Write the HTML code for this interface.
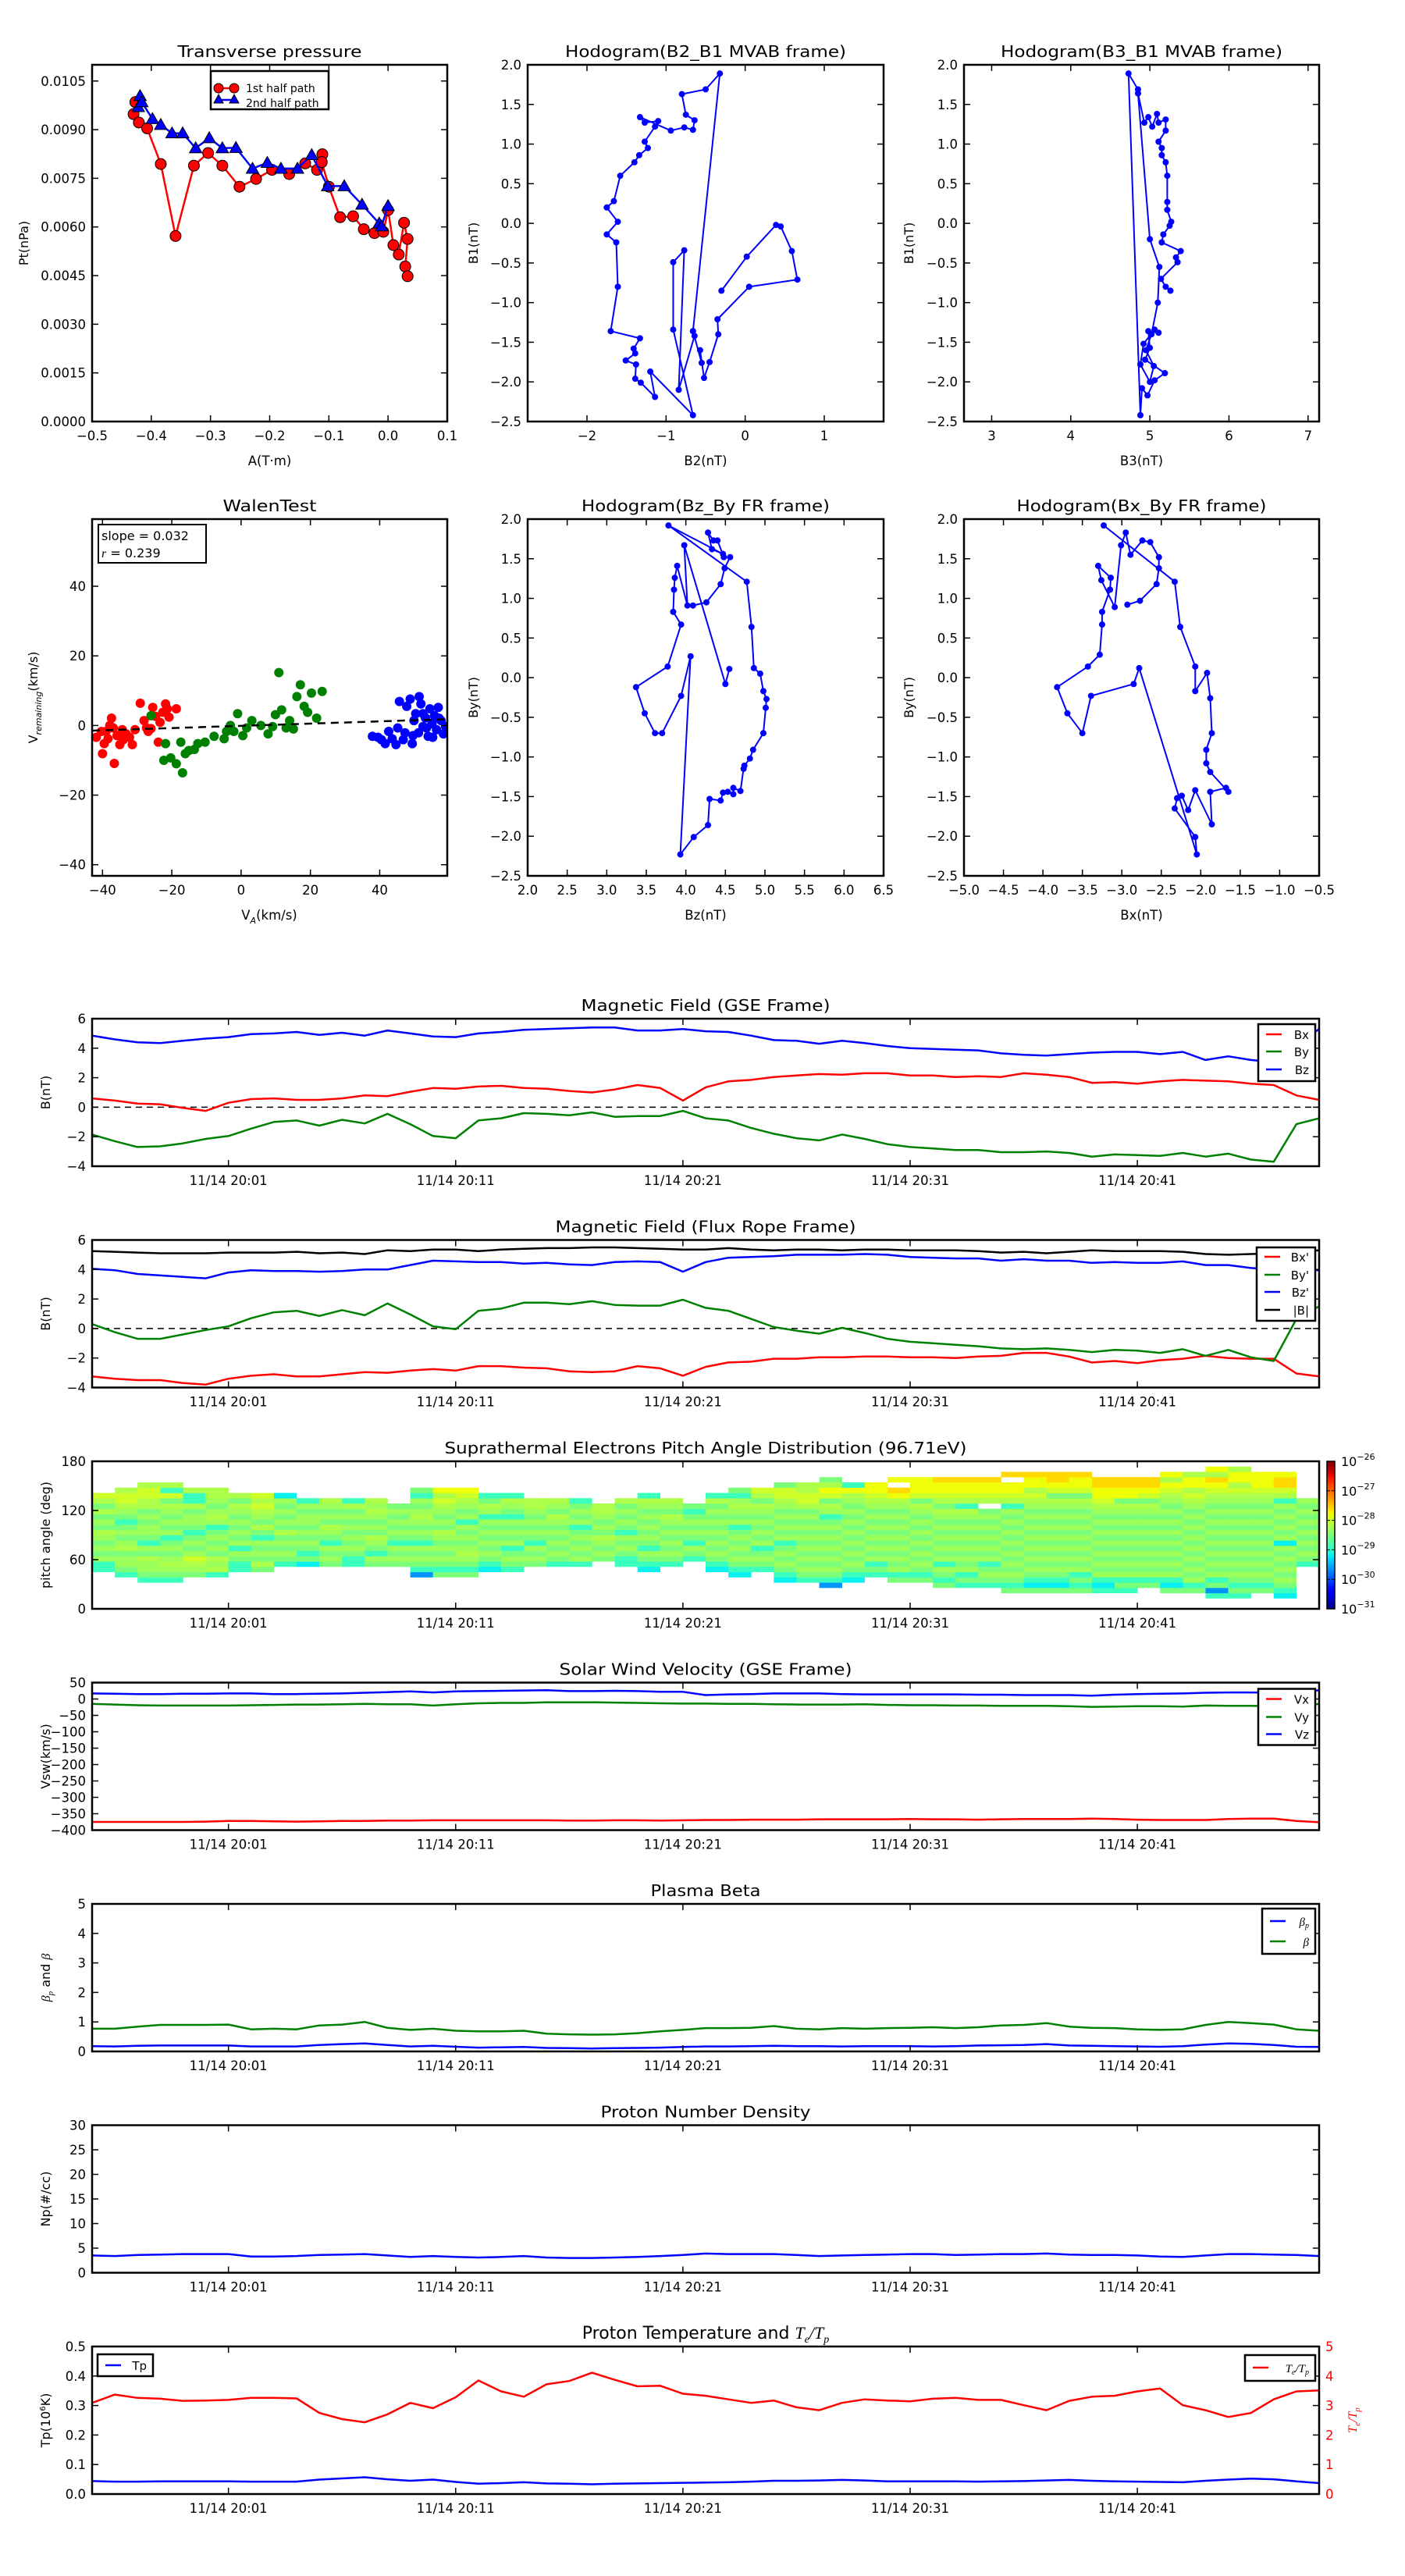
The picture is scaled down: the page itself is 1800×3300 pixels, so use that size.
<!DOCTYPE html>
<html><head><meta charset="utf-8"><title>Flux rope analysis</title>
<style>html,body{margin:0;padding:0;background:#fff}svg{display:block}</style>
</head><body>
<svg id="fig" xmlns="http://www.w3.org/2000/svg" width="1800" height="3300" viewBox="0 0 1800 3300">
<rect x="0" y="0" width="1800" height="3300" fill="#fff"/>
</svg>
<script>
// ---------------- DATA ----------------
// Transverse pressure
const ptA1 = [-0.427,-0.430,-0.421,-0.407,-0.384,-0.359,-0.328,-0.304,-0.280,-0.251,-0.223,-0.196,-0.167,-0.140,-0.120,-0.111,-0.112,-0.100,-0.081,-0.059,-0.041,-0.023,-0.008,0.0,0.009,0.018,0.027,0.033,0.029,0.033];
const ptP1 = [0.00985,0.00948,0.00922,0.00904,0.00794,0.00572,0.00789,0.00828,0.00789,0.00724,0.00748,0.00776,0.00763,0.00796,0.00776,0.00824,0.0080,0.00724,0.0063,0.00633,0.00593,0.00581,0.00585,0.00652,0.00544,0.00515,0.00613,0.00563,0.00478,0.00448];
const ptA2 = [-0.419,-0.422,-0.416,-0.398,-0.384,-0.365,-0.347,-0.325,-0.302,-0.280,-0.257,-0.229,-0.204,-0.181,-0.153,-0.129,-0.102,-0.074,-0.044,-0.015,-0.011,0.0];
const ptP2 = [0.01004,0.0097,0.00985,0.00933,0.00915,0.00889,0.00889,0.00843,0.00874,0.00843,0.00844,0.0078,0.00798,0.0078,0.0078,0.00822,0.00726,0.00726,0.00669,0.00611,0.00602,0.00665];
// Hodogram B2-B1
const hB2 = [-0.30,0.02,0.39,0.45,0.59,0.66,0.05,-0.35,-0.34,-0.45,-0.52,-0.57,-0.55,-0.66,-0.64,-0.84,-0.77,-0.91,-0.91,-0.66,-1.20,-1.14,-1.32,-1.39,-1.38,-1.51,-1.39,-1.41,-1.33,-1.70,-1.61,-1.63,-1.75,-1.61,-1.75,-1.66,-1.58,-1.40,-1.34,-1.23,-1.27,-1.14,-1.10,-1.27,-1.33,-0.94,-0.77,-0.66,-0.64,-0.75,-0.80,-0.50,-0.32,-0.66];
const hB1a = [-0.85,-0.42,-0.02,-0.04,-0.35,-0.71,-0.80,-1.21,-1.40,-1.75,-1.95,-1.60,-1.76,-1.36,-1.42,-2.10,-0.34,-0.49,-1.34,-2.42,-1.87,-2.19,-2.01,-1.96,-1.78,-1.73,-1.64,-1.58,-1.45,-1.36,-0.80,-0.24,-0.14,0.02,0.20,0.28,0.60,0.77,0.86,0.95,1.03,1.22,1.29,1.27,1.34,1.17,1.21,1.18,1.30,1.37,1.63,1.69,1.89,-1.36];
// Hodogram B3-B1
const hB3 = [5.26,5.20,5.14,5.35,5.33,5.39,5.15,5.17,5.25,5.27,5.22,5.22,5.22,5.20,5.15,5.15,5.11,5.20,5.20,5.11,5.09,5.03,4.98,4.93,4.85,4.85,4.73,4.88,4.90,4.97,5.06,5.19,4.94,5.00,4.98,5.11,5.06,4.92,4.88,5.00,5.05,4.95,5.02,5.10,5.12,5.00,4.85];
const hB1b = [-0.85,-0.80,-0.70,-0.49,-0.43,-0.35,-0.24,-0.14,-0.03,0.02,0.17,0.27,0.60,0.77,0.86,0.95,1.03,1.17,1.31,1.27,1.38,1.22,1.34,1.27,1.64,1.69,1.89,-2.42,-2.08,-2.17,-1.98,-1.89,-1.72,-1.57,-1.36,-1.38,-1.34,-1.52,-1.78,-2.00,-1.80,-1.60,-1.40,-1.00,-0.55,-0.20,1.64];
// Walen test
const wRedX = [-41.8,-40,-39,-37.9,-37.4,-36.6,-35.8,-35,-34.3,-33.2,-32.2,-31.4,-30.6,-40.3,-38.4,-36.9,-29.1,-27.3,-26,-25.5,-24.7,-23.9,-23.4,-22.6,-21.8,-21.3,-20.8,-18.7,-28,-26.8,-34,-39.5];
const wRedY = [-3.4,-8.1,-1.7,0,2.1,-10.9,-2.9,-5.5,-1.2,-2.4,-3.4,-5.5,-1.2,-1.7,-3.8,-0.7,6.4,-0.7,-0.9,5.2,2.6,-4.8,0.9,3.8,6.2,4.8,2.4,4.8,1.4,-1.7,-4.1,-5.2];
const wGrnX = [-26,-22.3,-21.8,-20.3,-18.7,-17.4,-16.9,-16.1,-15.1,-13.5,-12.5,-10.4,-7.8,-4.9,-4.2,-3.1,-2.1,-1,0.5,1.6,3.1,5.7,7.8,9.1,9.9,10.9,11.7,13,14,15.1,16.1,17.1,18.2,19.2,20.3,21.8,23.4];
const wGrnY = [2.8,-10,-5.2,-9.3,-11,-4.8,-13.6,-8.1,-7.2,-6.9,-5.2,-4.8,-3.1,-3.8,-1.7,0,-1.7,3.4,-2.9,-0.7,1.4,0,-2.4,-0.3,3.1,15.2,4.5,-0.7,1.4,-1,8.3,11.7,5.5,3.8,9.3,2.1,9.8];
const wBluX = [37.9,39.5,41.6,42.6,43.6,44.7,45.7,46.8,47.8,48.8,49.4,49.9,50.4,51.2,51.9,52.5,53.2,54,54.5,55.1,55.8,56.4,56.9,57.7,58.4,59,45.2,47.3,51.4,53.5,55.3,52.5,57.1,40.5,49.6];
const wBluY = [-3.1,-3.4,-5.2,-1.7,-3.8,-5.5,6.9,-4.1,5.5,7.6,-5.2,1.4,3.4,-2.1,6.2,-0.3,2.2,-3.1,4.8,0.5,2.8,-1.2,5.2,1.4,-2.4,-0.3,-0.7,-2.1,8.3,-0.7,-3.4,3.4,2.1,-4.1,-2.9];
const walenSlope = 0.032;
const walenIntercept = -0.1;
// Hodogram Bz-By (FR)
const fBz = [4.09,4.26,4.44,4.49,4.56,4.48,4.40,4.35,4.28,4.33,4.47,3.78,4.77,4.83,4.86,4.94,4.98,5.02,5.01,4.98,4.85,4.81,4.74,4.73,4.69,4.60,4.60,4.53,4.47,4.44,4.30,4.28,4.10,3.93,4.06,3.94,3.70,3.61,3.48,3.37,3.77,3.94,3.84,3.85,3.86,3.89,4.02,3.98,4.50,4.55];
const fBy = [0.91,0.95,1.18,1.38,1.52,1.52,1.73,1.73,1.83,1.62,1.56,1.92,1.21,0.64,0.12,0.05,-0.17,-0.27,-0.38,-0.70,-0.91,-1.02,-1.11,-1.15,-1.43,-1.39,-1.47,-1.44,-1.45,-1.55,-1.53,-1.86,-2.01,-2.23,0.27,-0.23,-0.70,-0.70,-0.45,-0.12,0.14,0.67,0.83,1.11,1.26,1.41,0.91,1.67,-0.08,0.11];
// Hodogram Bx-By (FR)
const gBx = [-3.23,-2.33,-2.26,-2.07,-2.07,-1.92,-1.88,-1.86,-1.93,-1.93,-1.88,-1.65,-1.68,-1.88,-1.86,-2.07,-2.16,-2.24,-2.30,-2.33,-2.07,-2.05,-2.78,-2.85,-3.39,-3.50,-3.69,-3.82,-3.43,-3.28,-3.25,-3.25,-3.15,-3.14,-3.30,-3.26,-3.09,-3.01,-2.95,-2.89,-2.74,-2.64,-2.53,-2.53,-2.56,-2.77,-2.93];
const gBy = [1.92,1.21,0.64,0.14,-0.17,0.06,-0.26,-0.70,-0.91,-1.08,-1.19,-1.44,-1.39,-1.44,-1.85,-1.42,-1.67,-1.49,-1.52,-1.65,-2.01,-2.23,0.12,-0.08,-0.23,-0.70,-0.45,-0.12,0.14,0.29,0.67,0.83,1.11,1.26,1.41,1.23,0.89,1.67,1.83,1.55,1.73,1.71,1.52,1.38,1.18,0.97,0.92];
// Time series (1-min samples from 19:55)
const timeTickPos = [6,16,26,36,46];
const timeTickLabels = ['11/14 20:01','11/14 20:11','11/14 20:21','11/14 20:31','11/14 20:41'];
const gseBx = [0.6,0.45,0.25,0.2,-0.05,-0.25,0.3,0.55,0.6,0.5, 0.5,0.6,0.8,0.75,1.05,1.3,1.25,1.4,1.45,1.3, 1.25,1.1,1.0,1.2,1.5,1.3,0.45,1.35,1.75,1.85, 2.05,2.15,2.25,2.2,2.3,2.3,2.15,2.15,2.05,2.1, 2.05,2.3,2.2,2.05,1.65,1.7,1.6,1.75,1.85,1.8, 1.75,1.6,1.5,0.8,0.5];
const gseBy = [-1.85,-2.3,-2.7,-2.65,-2.45,-2.15,-1.95,-1.45,-1.0,-0.9, -1.25,-0.85,-1.1,-0.45,-1.15,-1.95,-2.1,-0.9,-0.75,-0.4, -0.45,-0.55,-0.35,-0.65,-0.6,-0.6,-0.25,-0.75,-0.9,-1.4, -1.8,-2.1,-2.25,-1.85,-2.15,-2.5,-2.7,-2.8,-2.9,-2.9, -3.05,-3.05,-3.0,-3.1,-3.35,-3.2,-3.25,-3.3,-3.1,-3.35, -3.15,-3.55,-3.7,-1.15,-0.75];
const gseBz = [4.85,4.6,4.4,4.35,4.5,4.65,4.75,4.95,5.0,5.1, 4.9,5.05,4.85,5.2,5.0,4.8,4.75,5.0,5.1,5.25, 5.3,5.35,5.4,5.4,5.2,5.2,5.3,5.15,5.1,4.85, 4.55,4.5,4.3,4.5,4.35,4.15,4.0,3.95,3.9,3.85, 3.65,3.55,3.5,3.6,3.7,3.75,3.75,3.6,3.75,3.2, 3.45,3.2,3.05,4.2,5.3];
const frBx = [-3.25,-3.4,-3.5,-3.5,-3.7,-3.8,-3.4,-3.2,-3.1,-3.25, -3.25,-3.1,-2.95,-3.0,-2.85,-2.75,-2.85,-2.55,-2.55,-2.65, -2.7,-2.9,-2.95,-2.9,-2.55,-2.7,-3.2,-2.6,-2.3,-2.25, -2.05,-2.05,-1.95,-1.95,-1.9,-1.9,-1.95,-1.95,-2.0,-1.9, -1.85,-1.65,-1.65,-1.9,-2.3,-2.2,-2.35,-2.15,-2.05,-1.85, -2.0,-2.05,-2.05,-3.05,-3.25];
const frBy = [0.3,-0.25,-0.7,-0.7,-0.4,-0.1,0.15,0.7,1.1,1.2, 0.85,1.25,0.9,1.7,0.95,0.15,-0.05,1.2,1.35,1.75, 1.75,1.65,1.85,1.6,1.55,1.55,1.95,1.4,1.2,0.65, 0.1,-0.15,-0.35,0.05,-0.3,-0.7,-0.9,-1.0,-1.1,-1.2, -1.35,-1.4,-1.35,-1.45,-1.6,-1.45,-1.5,-1.65,-1.4,-1.85, -1.45,-1.95,-2.2,0.65,1.5];
const frBz = [4.05,3.95,3.7,3.6,3.5,3.4,3.8,3.95,3.9,3.9, 3.85,3.9,4.0,4.0,4.3,4.6,4.55,4.5,4.5,4.4, 4.45,4.35,4.3,4.5,4.55,4.5,3.85,4.5,4.8,4.85, 4.9,5.0,5.0,5.0,5.05,5.0,4.85,4.8,4.75,4.75, 4.6,4.7,4.6,4.6,4.45,4.5,4.45,4.45,4.55,4.3, 4.3,4.1,4.0,4.0,3.95];
const frBt = [5.25,5.2,5.15,5.1,5.1,5.1,5.15,5.15,5.15,5.2, 5.1,5.15,5.05,5.3,5.25,5.35,5.35,5.25,5.35,5.4, 5.45,5.45,5.5,5.5,5.45,5.4,5.35,5.35,5.45,5.35, 5.3,5.35,5.35,5.3,5.35,5.35,5.3,5.3,5.3,5.25, 5.15,5.2,5.1,5.2,5.3,5.25,5.25,5.25,5.2,5.05, 5.0,5.05,5.1,5.2,5.3];
const velVx = [-375,-375,-375,-375,-375,-374,-372,-372,-373,-374, -373,-372,-372,-371,-371,-370,-370,-370,-370,-370, -370,-371,-371,-370,-370,-371,-370,-369,-369,-368, -368,-368,-367,-367,-367,-367,-366,-367,-367,-368, -367,-366,-366,-366,-365,-366,-368,-369,-369,-369, -366,-365,-365,-372,-376];
const velVy = [-15,-17,-19,-20,-20,-20,-20,-19,-18,-17, -17,-16,-15,-16,-16,-20,-16,-13,-12,-12, -10,-10,-10,-11,-12,-13,-14,-14,-15,-15, -16,-17,-17,-17,-16,-18,-19,-19,-20,-20, -21,-21,-21,-22,-24,-23,-22,-22,-23,-20, -21,-21,-22,-24,-15];
const velVz = [17,16,15,15,16,16,17,17,15,15, 16,17,19,21,23,20,23,24,25,26, 27,24,24,25,24,22,22,12,14,15, 17,17,17,15,14,14,14,14,14,13, 13,12,12,12,10,13,15,16,17,19, 20,20,19,18,27];
const betaP = [0.18,0.17,0.19,0.2,0.2,0.2,0.2,0.17,0.17,0.17, 0.22,0.25,0.27,0.22,0.17,0.19,0.16,0.13,0.14,0.15, 0.12,0.11,0.1,0.11,0.12,0.13,0.15,0.17,0.17,0.18, 0.19,0.18,0.18,0.17,0.18,0.18,0.18,0.17,0.18,0.2, 0.21,0.22,0.25,0.2,0.19,0.18,0.17,0.16,0.18,0.23, 0.27,0.26,0.22,0.16,0.15];
const betaT = [0.77,0.77,0.84,0.9,0.9,0.9,0.91,0.75,0.77,0.75, 0.88,0.91,1.0,0.8,0.73,0.77,0.7,0.68,0.68,0.7, 0.6,0.58,0.57,0.58,0.62,0.68,0.73,0.79,0.79,0.8, 0.86,0.77,0.75,0.79,0.77,0.79,0.8,0.82,0.79,0.82, 0.88,0.9,0.96,0.84,0.8,0.79,0.75,0.73,0.75,0.9, 1.0,0.96,0.91,0.75,0.7];
const densNp = [3.5,3.4,3.6,3.7,3.8,3.8,3.8,3.3,3.3,3.4, 3.6,3.7,3.8,3.5,3.2,3.4,3.2,3.1,3.2,3.4, 3.1,3.0,3.0,3.1,3.2,3.4,3.6,3.9,3.8,3.8, 3.8,3.6,3.4,3.5,3.6,3.7,3.8,3.8,3.6,3.7, 3.8,3.8,3.9,3.7,3.6,3.6,3.5,3.3,3.2,3.5, 3.8,3.8,3.7,3.6,3.4];
const tempTp = [0.044,0.042,0.042,0.043,0.043,0.043,0.043,0.042,0.042,0.042, 0.049,0.053,0.057,0.05,0.045,0.049,0.041,0.035,0.037,0.04, 0.036,0.035,0.033,0.035,0.036,0.037,0.038,0.039,0.04,0.042, 0.045,0.045,0.046,0.048,0.046,0.043,0.043,0.043,0.043,0.042, 0.043,0.044,0.046,0.048,0.045,0.043,0.042,0.041,0.04,0.045, 0.049,0.052,0.05,0.043,0.037];
const tempRatio = [3.09,3.37,3.26,3.23,3.16,3.17,3.19,3.26,3.26,3.24, 2.75,2.54,2.43,2.7,3.09,2.91,3.28,3.85,3.48,3.3, 3.72,3.83,4.11,3.87,3.65,3.67,3.4,3.33,3.21,3.09, 3.17,2.94,2.84,3.09,3.21,3.17,3.14,3.23,3.26,3.19, 3.19,3.01,2.84,3.16,3.3,3.33,3.48,3.58,3.01,2.84, 2.61,2.75,3.21,3.48,3.51];
// Pitch angle distribution: per-minute column, lowest bin index, level codes (bottom->top)
const padBinCount = 28;
const padLevelLog = {b:-29.65,c:-29.2,t:-28.9,g:-28.5,G:-28.3,l:-28.2,y:-28.0,Y:-27.8,o:-27.6};
const padBot = [7,6,5,5,6,6,7,7,8,8, 8,8,8,8,6,6,6,7,7,8, 8,8,9,8,7,8,9,7,6,7, 5,5,4,5,6,4,4,4,4,4, 3,3,3,3,3,3,4,3,3,2, 2,3,2,8];
const padCols = ["ttGgGgGlgGglgly","tgGGglGgGgtgGlyyl","tgGGlgGtgGGgGgllyyl","tgGlGgGgtGgGgGlgytl","gGlyGgGgtgGGglttl","tlGlgGgGgtGlGgGll","ttgGtGgGgGgGlgl","glgGgGtglgGlyly","tgGgGglgGgGgGc","cgtgGgGgGGgGt",
"gGgGtgGlgGgGl","ttgGgGgGgGglt","gGtgGlgGgGlGl","gGgGtgGgGgGg","btgGgGtgGgGlGgGtg","gtgGgGgGlgGgGlylY","gtgGlGgGgGtGgGlyY","ctgGgGgGgGtGlgt","tgGgtGgGgGtgGlt","gGgGtgGgGgGll",
"tgGgGgGgGlgGl","tGgGgGgtGgGgt","gGgGlgGgGll","ttgGgGtgGgGgl","ctgGtgGgGgGgGlt","tgGgGgGgGlgGl","tgGtgGgGgtg","ctgGgGgGgGgGglt","ctgGgGgGgtGgGlGtg","tgGgtGgGgGgGlgly",
"ctgGgGgtGgGgGgGlyyg","tgGgGgGgGgGgGglyyll","btgGgGgGgGgGgtGlgyYlg","ctgGgGgGgGgGgGgGlYt","tgtGgGgGgGgGgGlyYY",".gtGgGgGgGgGgGgGlYo.Y",".gtgGgGgGgGgGgGlgyYYY","gtgGtGgGgGgGgGlglyYYo","tgtGgGgGgGgGgGltlyYYo","tgGgtGgGgGgGgGg.lyYYo",
"gtgGgGgGgGgGgGgGtlyYY.o","gctgGgGgGgGgGgGgGlylYYo","gctgGgGgGgGgGgGgGlgyYoo","gtgtGgGgGgGgGgGgGlgyYYo","tctGgGgGgGgGgGgGlyYYoo","tgtGgGgGgGgGgGgGlgYYoo","gtGgGgGgGgGgGgGlgyYoo","gctGgGgGgGgGgGgGgGlyYlY","gtGgGgGgGgGgGgGgGlylYYl","tbgtGgGgGgGgGgGgGgGlyYolY",
"tgtgGgGgGgGgGgGgGgGlylYYl","gtgGgGgGgGgGgGgGgGlyYYY","ctgGgGgGgGcGgGgGgGtlyooY","tgGgGgGgGgGgG"];
const cbarExps = [-26,-27,-28,-29,-30,-31];

// ---------------- RENDERING ----------------
const NS = 'http://www.w3.org/2000/svg';
const svg = document.getElementById('fig');
const FONT = '"DejaVu Sans","Liberation Sans",sans-serif';
let clipId = 0;
function mk(tag, attrs, parent) {
  const e = document.createElementNS(NS, tag);
  for (const k in attrs) e.setAttribute(k, attrs[k]);
  (parent || svg).appendChild(e);
  return e;
}
function text(str, x, y, size, anchor, parent, name, fill) {
  const t = mk('text', {x: x, y: y, 'font-family': FONT, 'font-size': size, 'text-anchor': anchor, fill: fill || '#000'}, parent);
  t.textContent = str;
  
  
  return t;
}
function fmt(v, d) { return (v < 0 ? '\u2212' : '') + Math.abs(v).toFixed(d); }
const JET_R = [[0,0],[0.35,0],[0.66,1],[0.89,1],[1,0.5]];
const JET_G = [[0,0],[0.125,0],[0.375,1],[0.64,1],[0.91,0],[1,0]];
const JET_B = [[0,0.5],[0.11,1],[0.34,1],[0.65,0],[1,0]];
function seg(tab, f) {
  for (let i = 1; i < tab.length; i++) {
    if (f <= tab[i][0]) { const a = tab[i - 1], b = tab[i]; return a[1] + (b[1] - a[1]) * (f - a[0]) / (b[0] - a[0]); }
  }
  return tab[tab.length - 1][1];
}
function jet(f) {
  f = Math.max(0, Math.min(1, f));
  const c = v => Math.round(255 * v);
  return 'rgb(' + c(seg(JET_R, f)) + ',' + c(seg(JET_G, f)) + ',' + c(seg(JET_B, f)) + ')';
}

function axes(o) {
  const g = mk('g', {});
  
  
  const sx = v => o.x0 + (v - o.xd[0]) / (o.xd[1] - o.xd[0]) * o.w;
  const sy = v => o.y0 + o.h - (v - o.yd[0]) / (o.yd[1] - o.yd[0]) * o.h;
  const id = 'clip' + (clipId++);
  const cp = mk('clipPath', {id: id}, g);
  mk('rect', {x: o.x0, y: o.y0, width: o.w, height: o.h}, cp);
  const data = mk('g', {'clip-path': 'url(#' + id + ')'}, g);
  
  
  const ticks = mk('g', {stroke: '#000', 'stroke-width': 1.5}, g);
  
  
  const ts = o.tickSize || 16.5;
  o.xt.forEach((v, i) => {
    const x = sx(v);
    mk('line', {x1: x, x2: x, y1: o.y0 + o.h, y2: o.y0 + o.h - 8}, ticks);
    mk('line', {x1: x, x2: x, y1: o.y0, y2: o.y0 + 8}, ticks);
    const t = text(o.xl[i], x, o.y0 + o.h + 24, ts, 'middle', g, 'x-tick-label');
    if (o.xlen) { t.setAttribute('textLength', o.xlen); t.setAttribute('lengthAdjust', 'spacingAndGlyphs'); }
  });
  o.yt.forEach((v, i) => {
    const y = sy(v);
    mk('line', {x1: o.x0, x2: o.x0 + 8, y1: y, y2: y}, ticks);
    if (!o.noRightTicks) mk('line', {x1: o.x0 + o.w, x2: o.x0 + o.w - 8, y1: y, y2: y}, ticks);
    text(o.yl[i], o.x0 - 8, y + 6, ts, 'end', g, 'y-tick-label');
  });
  const frame = () => {
    const f = mk('rect', {x: o.x0, y: o.y0, width: o.w, height: o.h, fill: 'none', stroke: '#000', 'stroke-width': 2.5}, g);
    
    
  };
  if (o.title) {
    const t = text(o.title, o.x0 + o.w / 2, o.y0 - 10, 20, 'middle', g, o.name + '-title');
    if (o.titleLen) { t.setAttribute('textLength', o.titleLen); t.setAttribute('lengthAdjust', 'spacingAndGlyphs'); }
  }
  if (o.xlabel) text(o.xlabel, o.x0 + o.w / 2, o.y0 + o.h + 56, 16.5, 'middle', g, o.name + '-x-axis-title');
  if (o.ylabel) {
    const t = text(o.ylabel, 0, 0, 16, 'middle', g, o.name + '-y-axis-title');
    t.setAttribute('transform', 'translate(' + o.ylx + ',' + (o.y0 + o.h / 2) + ') rotate(-90)');
  }
  return {sx, sy, data, g, frame, o};
}

function polyline(ax, xs, ys, color, width, name, dash) {
  const pts = xs.map((x, i) => ax.sx(x).toFixed(1) + ',' + ax.sy(ys[i]).toFixed(1)).join(' ');
  const p = mk('polyline', {points: pts, fill: 'none', stroke: color, 'stroke-width': width, 'stroke-linejoin': 'round'}, ax.data);
  if (dash) p.setAttribute('stroke-dasharray', dash);
  
  
  return p;
}
function dots(ax, xs, ys, color, r, name, stroke) {
  xs.forEach((x, i) => {
    const c = mk('circle', {cx: ax.sx(x), cy: ax.sy(ys[i]), r: r, fill: color, stroke: stroke || 'none', 'stroke-width': 1}, ax.data);
    
    
  });
}
function triangles(ax, xs, ys, color, s, name) {
  xs.forEach((x, i) => {
    const cx = ax.sx(x), cy = ax.sy(ys[i]);
    const p = mk('polygon', {points: cx + ',' + (cy - s) + ' ' + (cx - s) + ',' + (cy + s * 0.75) + ' ' + (cx + s) + ',' + (cy + s * 0.75), fill: color, stroke: '#000', 'stroke-width': 1}, ax.data);
    
    
  });
}
function legend(x, y, w, h, entries, parent, name) {
  const g = mk('g', {}, parent);
  
  
  mk('rect', {x: x, y: y, width: w, height: h, fill: '#fff', stroke: '#000', 'stroke-width': 2.5}, g);
  entries.forEach(e => {
    const l = mk('line', {x1: x + 10, x2: x + 30, y1: e.y, y2: e.y, stroke: e.color, 'stroke-width': 2.5}, g);
    
    
    const t = text('', x + w - 8, e.y + 6, 15, 'end', g, 'legend-entry');
    if (e.html) t.innerHTML = e.html; else t.textContent = e.label;
  });
  return g;
}
const range = (a, b, s) => { const r = []; for (let v = a; v <= b + 1e-9; v += s) r.push(+v.toFixed(6)); return r; };

// ---- Row 1 ----
const R1 = {y0: 83, h: 457}, R2 = {y0: 665, h: 457};
const yHodo = range(-2.5, 2.0, 0.5);
const p1yt = range(0, 0.0105, 0.0015);
const p1xt = range(-0.5, 0.1, 0.1);
const ax1 = axes({name: 'transverse-pressure-chart', x0: 118, y0: R1.y0, w: 455, h: R1.h, xd: [-0.5, 0.1], yd: [0, 0.0110],
  xt: p1xt, xl: p1xt.map(v => fmt(v, 1)), yt: p1yt, yl: p1yt.map(v => v.toFixed(4)),
  title: 'Transverse pressure', titleLen: 236, xlabel: 'A(T\u00b7m)', ylabel: 'Pt(nPa)', ylx: 36});
polyline(ax1, ptA1, ptP1, '#f00', 2.5, 'first-half-path-line');
dots(ax1, ptA1, ptP1, '#f00', 7, 'first-half-marker', '#000');
polyline(ax1, ptA2, ptP2, '#00f', 2.5, 'second-half-path-line');
triangles(ax1, ptA2, ptP2, '#00f', 8, 'second-half-marker');
ax1.frame();
(function () {
  const g = legend(270, 91, 151, 49, [], ax1.g, 'pressure-legend');
  mk('line', {x1: 280, x2: 300, y1: 113, y2: 113, stroke: '#f00', 'stroke-width': 2.5}, g);
  mk('circle', {cx: 280, cy: 113, r: 6, fill: '#f00', stroke: '#000'}, g);
  mk('circle', {cx: 300, cy: 113, r: 6, fill: '#f00', stroke: '#000'}, g);
  text('1st half path', 315, 118, 14, 'start', g, 'legend-entry');
  mk('line', {x1: 280, x2: 300, y1: 128, y2: 128, stroke: '#00f', 'stroke-width': 2.5}, g);
  mk('polygon', {points: '280,121 274,132 286,132', fill: '#00f', stroke: '#000'}, g);
  mk('polygon', {points: '300,121 294,132 306,132', fill: '#00f', stroke: '#000'}, g);
  text('2nd half path', 315, 137, 14, 'start', g, 'legend-entry');
})();

const ax2 = axes({name: 'hodogram-b2-b1-chart', x0: 676, y0: R1.y0, w: 456, h: R1.h, xd: [-2.75, 1.75], yd: [-2.5, 2.0],
  xt: [-2, -1, 0, 1], xl: [-2, -1, 0, 1].map(v => fmt(v, 0)), yt: yHodo, yl: yHodo.map(v => fmt(v, 1)),
  title: 'Hodogram(B2_B1 MVAB frame)', titleLen: 360, xlabel: 'B2(nT)', ylabel: 'B1(nT)', ylx: 612});
polyline(ax2, hB2, hB1a, '#00f', 2, 'hodogram-b2-b1-line');
dots(ax2, hB2, hB1a, '#00f', 4, 'hodogram-b2-b1-point');
ax2.frame();

const p3xt = [3, 4, 5, 6, 7];
const ax3 = axes({name: 'hodogram-b3-b1-chart', x0: 1235, y0: R1.y0, w: 455, h: R1.h, xd: [2.65, 7.14], yd: [-2.5, 2.0],
  xt: p3xt, xl: p3xt.map(v => fmt(v, 0)), yt: yHodo, yl: yHodo.map(v => fmt(v, 1)),
  title: 'Hodogram(B3_B1 MVAB frame)', titleLen: 361, xlabel: 'B3(nT)', ylabel: 'B1(nT)', ylx: 1170});
polyline(ax3, hB3, hB1b, '#00f', 2, 'hodogram-b3-b1-line');
dots(ax3, hB3, hB1b, '#00f', 4, 'hodogram-b3-b1-point');
ax3.frame();

// ---- Row 2 ----
const wt = [-40, -20, 0, 20, 40];
const ax4 = axes({name: 'walen-test-chart', x0: 118, y0: R2.y0, w: 455, h: R2.h, xd: [-43, 59.5], yd: [-43.2, 59.3],
  xt: wt, xl: wt.map(v => fmt(v, 0)), yt: wt, yl: wt.map(v => fmt(v, 0)),
  title: 'WalenTest', titleLen: 120, xlabel: '', ylabel: '', ylx: 48});
{
  const t = text('', 118 + 227, R2.y0 + R2.h + 56, 16.5, 'middle', ax4.g, 'walen-x-axis-title');
  t.innerHTML = 'V<tspan font-size="11" dy="5" font-style="italic">A</tspan><tspan dy="-5">(km/s)</tspan>';
  const t2 = text('', 0, 0, 16, 'middle', ax4.g, 'walen-y-axis-title');
  t2.innerHTML = 'V<tspan font-size="11" dy="5" font-style="italic">remaining</tspan><tspan dy="-5">(km/s)</tspan>';
  t2.setAttribute('transform', 'translate(48,' + (R2.y0 + R2.h / 2) + ') rotate(-90)');
}
dots(ax4, wRedX, wRedY, '#f00', 6, 'walen-point-red');
dots(ax4, wGrnX, wGrnY, '#008000', 6, 'walen-point-green');
dots(ax4, wBluX, wBluY, '#00f', 6, 'walen-point-blue');
{
  const fx = [-43, 59.5];
  polyline(ax4, fx, fx.map(v => walenSlope * v + walenIntercept), '#000', 2.5, 'walen-fit-line', '10,7');
}
ax4.frame();
{
  const g = mk('g', {}, ax4.g);
  
  
  mk('rect', {x: 126, y: 672, width: 138, height: 49, fill: '#fff', stroke: '#000', 'stroke-width': 2}, g);
  text('slope = 0.032', 130, 692, 16, 'start', g, 'slope-text');
  const r = text('', 130, 714, 16, 'start', g, 'correlation-text');
  r.innerHTML = '<tspan font-style="italic" font-family="Liberation Serif">r</tspan> = 0.239';
}

const p5xt = range(2.0, 6.5, 0.5);
const ax5 = axes({name: 'hodogram-bz-by-chart', x0: 676, y0: R2.y0, w: 456, h: R2.h, xd: [2.0, 6.5], yd: [-2.5, 2.0],
  xt: p5xt, xl: p5xt.map(v => fmt(v, 1)), yt: yHodo, yl: yHodo.map(v => fmt(v, 1)),
  title: 'Hodogram(Bz_By FR frame)', titleLen: 318, xlabel: 'Bz(nT)', ylabel: 'By(nT)', ylx: 612});
polyline(ax5, fBz, fBy, '#00f', 2, 'hodogram-bz-by-line');
dots(ax5, fBz, fBy, '#00f', 4, 'hodogram-bz-by-point');
ax5.frame();

const p6xt = range(-5.0, -0.5, 0.5);
const ax6 = axes({name: 'hodogram-bx-by-chart', x0: 1235, y0: R2.y0, w: 455, h: R2.h, xd: [-5.0, -0.5], yd: [-2.5, 2.0],
  xt: p6xt, xl: p6xt.map(v => fmt(v, 1)), yt: yHodo, yl: yHodo.map(v => fmt(v, 1)),
  title: 'Hodogram(Bx_By FR frame)', titleLen: 320, xlabel: 'Bx(nT)', ylabel: 'By(nT)', ylx: 1170});
polyline(ax6, gBx, gBy, '#00f', 2, 'hodogram-bx-by-line');
dots(ax6, gBx, gBy, '#00f', 4, 'hodogram-bx-by-point');
ax6.frame();

// ---- Time series ----
const tIdx = gseBx.map((_, i) => i);
const TS_TOP = 1305, TS_STEP = 283.5, TS_H = 189;
function tsAxes(k, name, yd, yt, yl, title, titleLen, ylabel, extra) {
  const o = Object.assign({name: name, x0: 118, y0: TS_TOP + TS_STEP * k, w: 1572, h: TS_H, xd: [0, 54], yd: yd,
    xt: timeTickPos, xl: timeTickLabels, xlen: 100, yt: yt, yl: yl, title: title, titleLen: titleLen, ylabel: ylabel, ylx: 64}, extra || {});
  return axes(o);
}
const bt = range(-4, 6, 2);
// GSE
const axG = tsAxes(0, 'magnetic-field-gse-chart', [-4, 6], bt, bt.map(v => fmt(v, 0)), 'Magnetic Field (GSE Frame)', 319, 'B(nT)');
polyline(axG, [0, 54], [0, 0], '#000', 1.5, 'zero-line', '8,6');
polyline(axG, tIdx, gseBx, '#f00', 2.5, 'gse-bx-line');
polyline(axG, tIdx, gseBy, '#008000', 2.5, 'gse-by-line');
polyline(axG, tIdx, gseBz, '#00f', 2.5, 'gse-bz-line');
axG.frame();
legend(1612, 1312, 73, 73, [{label: 'Bx', color: '#f00', y: 1325}, {label: 'By', color: '#008000', y: 1347}, {label: 'Bz', color: '#00f', y: 1370}], axG.g, 'gse-legend');
// FR
const axF = tsAxes(1, 'magnetic-field-flux-rope-chart', [-4, 6], bt, bt.map(v => fmt(v, 0)), 'Magnetic Field (Flux Rope Frame)', 385, 'B(nT)');
polyline(axF, [0, 54], [0, 0], '#000', 1.5, 'zero-line', '8,6');
polyline(axF, tIdx, frBx, '#f00', 2.5, 'fr-bx-line');
polyline(axF, tIdx, frBy, '#008000', 2.5, 'fr-by-line');
polyline(axF, tIdx, frBz, '#00f', 2.5, 'fr-bz-line');
polyline(axF, tIdx, frBt, '#000', 2.5, 'fr-btotal-line');
axF.frame();
legend(1610, 1598, 75, 94, [{label: "Bx'", color: '#f00', y: 1610}, {label: "By'", color: '#008000', y: 1633}, {label: "Bz'", color: '#00f', y: 1655}, {label: '|B|', color: '#000', y: 1678}], axF.g, 'fr-legend');
// PAD
const pt = [0, 60, 120, 180];
const axP = tsAxes(2, 'pitch-angle-distribution-chart', [0, 180], pt, pt.map(String), 'Suprathermal Electrons Pitch Angle Distribution (96.71eV)', 669, 'pitch angle (deg)');
{
  const bw = 180 / padBinCount;
  padCols.forEach((col, k) => {
    for (let j = 0; j < col.length; j++) {
      const ch = col[j];
      if (!(ch in padLevelLog)) continue;
      const bin = padBot[k] + j;
      const x1 = axP.sx(k), x2 = axP.sx(k + 1);
      const y1 = axP.sy((bin + 1) * bw), y2 = axP.sy(bin * bw);
      const r = mk('rect', {x: x1, y: y1, width: x2 - x1 + 0.3, height: y2 - y1 + 0.3, fill: jet((padLevelLog[ch] + 31) / 5)}, axP.data);
      
      
    }
  });
}
axP.frame();
{
  const y0 = axP.o.y0, h = TS_H;
  const grad = mk('linearGradient', {id: 'jetgrad', x1: 0, y1: 1, x2: 0, y2: 0});
  for (let i = 0; i <= 40; i++) mk('stop', {offset: (i / 40), 'stop-color': jet(i / 40)}, grad);
  const cb = mk('rect', {x: 1700, y: y0, width: 10, height: h, fill: 'url(#jetgrad)', stroke: '#000', 'stroke-width': 1.5});
  
  
  cbarExps.forEach(e => {
    const y = y0 + (-26 - e) / 5 * h;
    mk('line', {x1: 1700, x2: 1704, y1: y, y2: y, stroke: '#000', 'stroke-width': 1});
    mk('line', {x1: 1706, x2: 1710, y1: y, y2: y, stroke: '#000', 'stroke-width': 1});
    const t = text('', 1718, y + 6, 16, 'start', svg, 'colorbar-tick-label');
    t.innerHTML = '10<tspan font-size="11" dy="-8">' + '\u2212' + Math.abs(e) + '</tspan>';
  });
}
// Velocity
const vt = range(-400, 50, 50);
const axV = tsAxes(3, 'solar-wind-velocity-chart', [-400, 50], vt, vt.map(v => fmt(v, 0)), 'Solar Wind Velocity (GSE Frame)', 375, 'Vsw(km/s)');
polyline(axV, tIdx, velVx, '#f00', 2.5, 'vx-line');
polyline(axV, tIdx, velVy, '#008000', 2.5, 'vy-line');
polyline(axV, tIdx, velVz, '#00f', 2.5, 'vz-line');
axV.frame();
legend(1612, TS_TOP + TS_STEP * 3 + 8, 73, 72, [{label: 'Vx', color: '#f00', y: TS_TOP + TS_STEP * 3 + 21}, {label: 'Vy', color: '#008000', y: TS_TOP + TS_STEP * 3 + 44}, {label: 'Vz', color: '#00f', y: TS_TOP + TS_STEP * 3 + 66}], axV.g, 'velocity-legend');
// Beta
const bet = range(0, 5, 1);
const axB = tsAxes(4, 'plasma-beta-chart', [0, 5], bet, bet.map(String), 'Plasma Beta', 141, '', {});
{
  const t = text('', 0, 0, 16, 'middle', axB.g, 'beta-y-axis-title');
  t.innerHTML = '<tspan font-style="italic" font-family="Liberation Serif">\u03b2<tspan font-size="11" dy="4">p</tspan></tspan><tspan dy="-4"> and </tspan><tspan font-style="italic" font-family="Liberation Serif">\u03b2</tspan>';
  t.setAttribute('transform', 'translate(64,' + (axB.o.y0 + TS_H / 2) + ') rotate(-90)');
}
polyline(axB, tIdx, betaP, '#00f', 2.5, 'beta-proton-line');
polyline(axB, tIdx, betaT, '#008000', 2.5, 'beta-total-line');
axB.frame();
{
  const by = axB.o.y0;
  legend(1617, by + 6, 68, 58, [{html: '<tspan font-style="italic" font-family="Liberation Serif">\u03b2<tspan font-size="10" dy="3">p</tspan></tspan>', color: '#00f', y: by + 22}, {html: '<tspan font-style="italic" font-family="Liberation Serif">\u03b2</tspan>', color: '#008000', y: by + 48}], axB.g, 'beta-legend');
}
// Density
const nt = range(0, 30, 5);
const axN = tsAxes(5, 'proton-density-chart', [0, 30], nt, nt.map(String), 'Proton Number Density', 269, 'Np(#/cc)');
polyline(axN, tIdx, densNp, '#00f', 2.5, 'density-line');
axN.frame();
// Temperature
const tt = range(0, 0.5, 0.1);
const axT = tsAxes(6, 'proton-temperature-chart', [0, 0.5], tt, tt.map(v => v.toFixed(1)), '', 0, '', {noRightTicks: true});
{
  const ty = axT.o.y0;
  const t = text('', 904, ty - 10, 22, 'middle', axT.g, 'proton-temperature-chart-title');
  t.innerHTML = 'Proton Temperature and <tspan font-style="italic" font-family="Liberation Serif">T<tspan font-size="14" dy="5">e</tspan><tspan dy="-5">/T</tspan><tspan font-size="14" dy="5">p</tspan></tspan>';
  const yl = text('', 0, 0, 16, 'middle', axT.g, 'tp-y-axis-title');
  yl.innerHTML = 'Tp(10<tspan font-size="10" dy="-6">6</tspan><tspan dy="6">K)</tspan>';
  yl.setAttribute('transform', 'translate(64,' + (ty + TS_H / 2) + ') rotate(-90)');
  const rt = range(0, 5, 1);
  const syR = v => ty + TS_H - v / 5 * TS_H;
  rt.forEach(v => {
    mk('line', {x1: 1690, x2: 1682, y1: syR(v), y2: syR(v), stroke: '#000', 'stroke-width': 1.5}, axT.g);
    text(String(v), 1698, syR(v) + 6, 16.5, 'start', axT.g, 'right-y-tick-label', '#f00');
  });
  const rl = text('', 0, 0, 16, 'middle', axT.g, 'ratio-y-axis-title', '#f00');
  rl.innerHTML = '<tspan font-style="italic" font-family="Liberation Serif">T<tspan font-size="11" dy="4">e</tspan><tspan dy="-4">/T</tspan><tspan font-size="11" dy="4">p</tspan></tspan>';
  rl.setAttribute('transform', 'translate(1738,' + (ty + TS_H / 2) + ') rotate(-90)');
  const axR = {sx: axT.sx, sy: syR, data: axT.data};
  polyline(axR, tIdx, tempRatio, '#f00', 2.5, 'te-tp-ratio-line');
  polyline(axT, tIdx, tempTp, '#00f', 2.5, 'tp-line');
  axT.frame();
  legend(125, ty + 10, 71, 28, [{label: 'Tp', color: '#00f', y: ty + 24}], axT.g, 'tp-legend');
  legend(1595, ty + 11, 90, 33, [{html: '<tspan font-style="italic" font-family="Liberation Serif">T<tspan font-size="10" dy="3">e</tspan><tspan dy="-3">/T</tspan><tspan font-size="10" dy="3">p</tspan></tspan>', color: '#f00', y: ty + 27}], axT.g, 'ratio-legend');
}
</script>
</body></html>
